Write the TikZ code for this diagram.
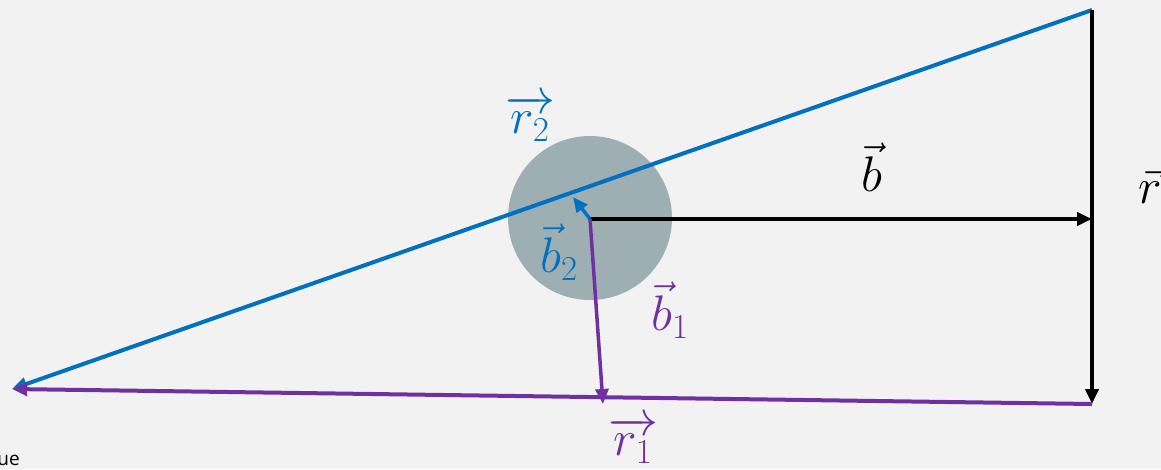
\documentclass[tikz,border=0pt]{standalone}
\usepackage{fix-cm}
\usepackage{fontspec}
\newfontfamily\uifont{Open Sans}
\usetikzlibrary{arrows.meta}
\definecolor{bgc}{HTML}{F2F2F2}
\definecolor{vblue}{HTML}{0070C0}
\definecolor{vpurple}{HTML}{7030A0}
\definecolor{ballc}{HTML}{9EAFB3}
\tikzset{
  vec/.style={line width=4pt},
  tip/.style={-{Triangle[length=15pt,width=13pt]}},
  lbl/.style={inner sep=0pt, font=\fontsize{50}{56}\selectfont}
}
\begin{document}
\begin{tikzpicture}[x=1pt,y=-1pt]
\fill[bgc] (0,0) rectangle (1161,469);
\useasboundingbox (0,0) rectangle (1161,469);
\clip (0,0) rectangle (1161,469);
% ball
\fill[ballc] (590,218) circle (82);
% points
\coordinate (top) at (1092,10);
\coordinate (br) at (1092,404);
\coordinate (src) at (12,389);
\coordinate (c) at (590,219);
\coordinate (p2) at (573,197);
\coordinate (p1) at (603,404);
% lines
\draw[vec, vblue, tip] (top) -- (src);
\draw[vec, black, tip] (top) -- (br);
\draw[vec, vpurple, tip] (br) -- (src);
\draw[vec, black, tip] (c) -- (1092,219);
\draw[vec, vblue, tip, line width=3.5pt] (c) -- (p2);
\draw[vec, vpurple, tip, line width=3.5pt] (c) -- (p1);
% labels
\node[lbl, text=vblue] (lr2) at (530,118) {$\overrightarrow{r_2}$};
\node[lbl, text=vblue] (lb2) at (559,252) {$\vec{b}_2$};
\node[lbl, text=vpurple] (lb1) at (670,310) {$\vec{b}_1$};
\node[lbl, text=vpurple] (lr1) at (633,440) {$\overrightarrow{r_1}$};
\node[lbl, text=black] (lb) at (872,167) {$\vec{b}$};
\node[lbl, text=black, anchor=west] (lr) at (1138,186) {$\vec{r}$};
\node[inner sep=0pt, anchor=base east, font=\uifont\fontsize{19}{22}\selectfont] (ue) at (20,465) {ue};
\end{tikzpicture}
\end{document}
